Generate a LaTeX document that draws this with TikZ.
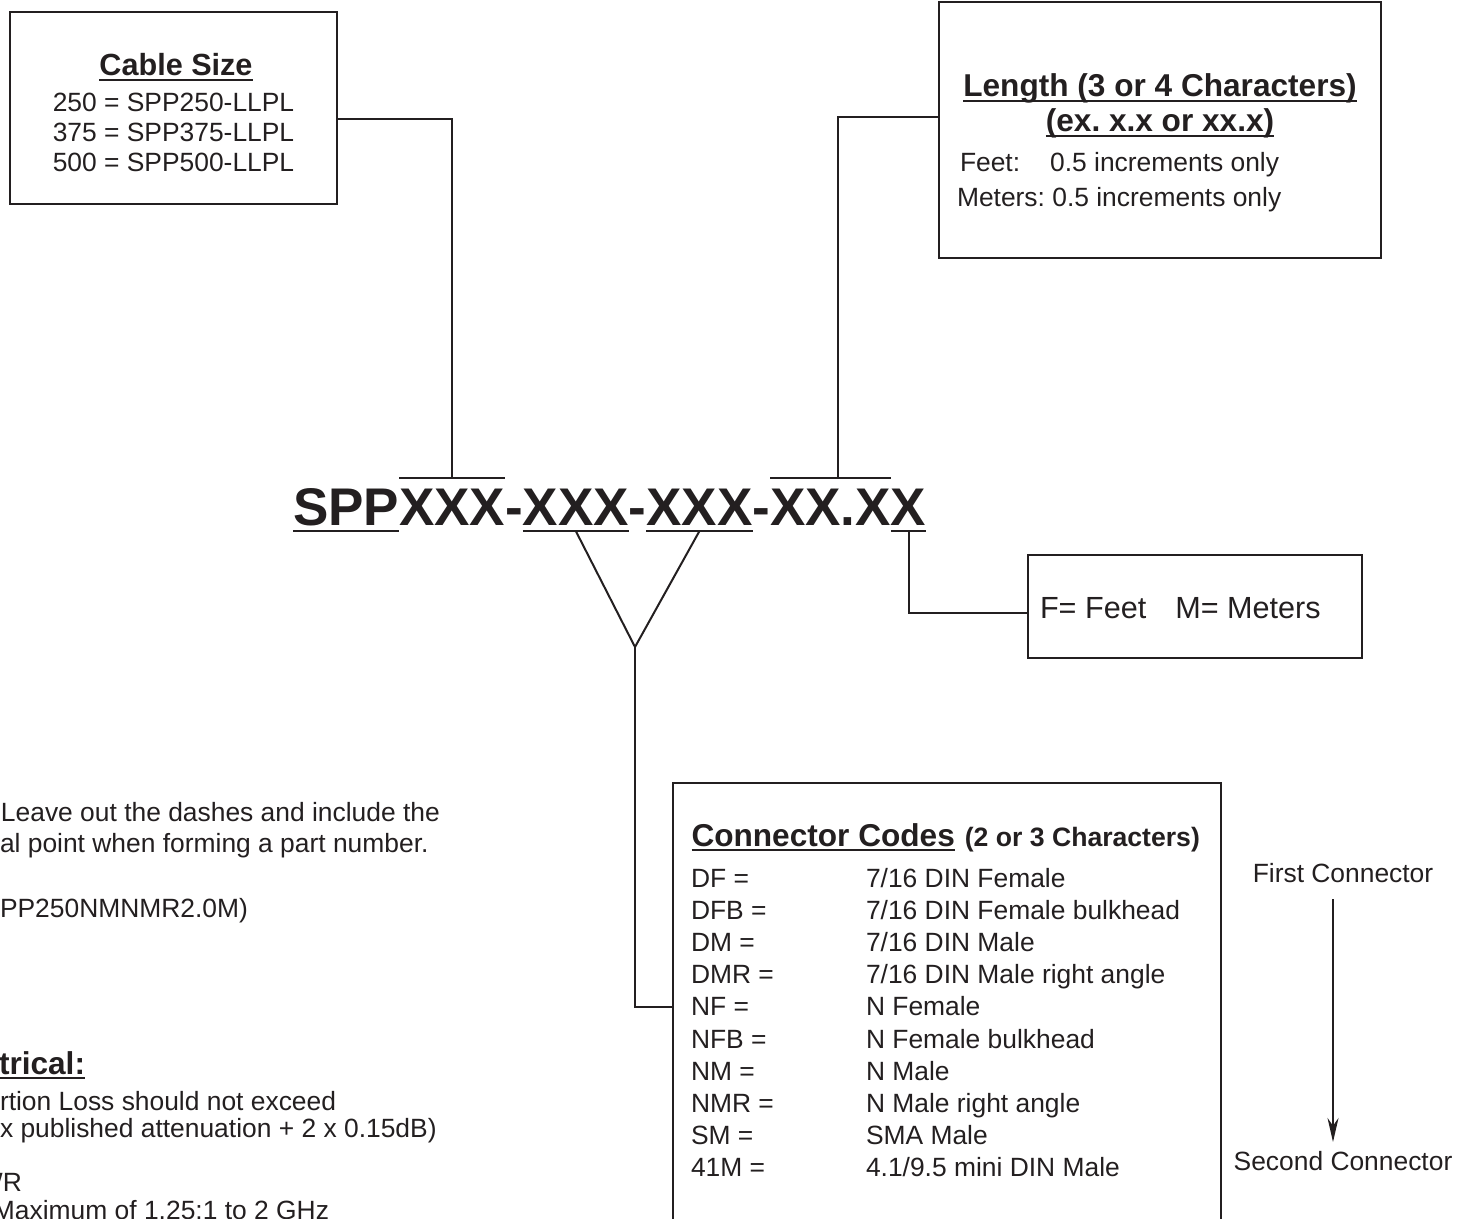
\documentclass[tikz,border=0pt]{standalone}
\usepackage{fontspec}
\setmainfont{Liberation Sans}
\usetikzlibrary{arrows.meta, positioning}
\definecolor{ink}{HTML}{231F20}
\frenchspacing

\begin{document}
\begin{tikzpicture}[x=0.5pt, y=-0.5pt, color=ink, line width=1pt,
    txt/.style={inner sep=0pt, outer sep=0pt, anchor=base west, font=\fontsize{13.2}{15}\selectfont},
    head/.style={txt, font=\fontsize{15.8}{18}\selectfont\bfseries},
    box/.style={draw, line width=1.2pt, inner sep=0pt},
    code/.style={inner sep=0pt, outer sep=0pt, anchor=base west, font=\fontsize{26.5}{30}\selectfont\bfseries}]
    \useasboundingbox (0,0) rectangle (1457,1219);

    % cable size
    \node[box, minimum width=163.5pt, minimum height=96pt] (cable) at (173.5,108) {};
    \node[head, anchor=base, font=\fontsize{15.3}{18}\selectfont\bfseries] (cabletitle) at (176,76) {Cable Size};
    \foreach \v [count=\i] in {250,375,500}
        \node[txt, anchor=base] (cs\v) at (173.5, 82+30*\i) {\v{} = SPP\v-LLPL};

    % length
    \node[box, minimum width=221pt, minimum height=128pt] (len) at (1160,130) {};
    \node[head, anchor=base] (lentitle) at (1160,97) {Length (3 or 4 Characters)};
    \node[head, anchor=base] (lenex) at (1160,132) {(ex. x.x or xx.x)};
    \node[txt] (feet) at (960,172) {Feet:\hspace{15pt}0.5 increments only};
    \node[txt] (meters) at (957,207) {Meters: 0.5 increments only};

    % part number
    \node[code] (spp) at (293,525) {SPP};
    \foreach \t/\n/\p in {XXX/xa/spp, -/da/xa, XXX/xb/da, -/db/xb, XXX/xc/db, -/dc/xc, XX.X/xd/dc, X/xe/xd}
        \node[code] (\n) at (\p.base east) {\t};
    \foreach \n in {spp,xb,xc,xe}
        \draw ([yshift=-3pt]\n.base west) -- ([yshift=-3pt]\n.base east);
    \foreach \n in {xa,xd}
        \draw ([yshift=5.5pt]\n.north west) -- ([yshift=5.5pt]\n.north east);

    % F / M
    \node[box, minimum width=167pt, minimum height=51.5pt] (fm) at (1195,606.5) {};
    \node[txt, font=\fontsize{15.3}{18}\selectfont] (fmtext) at (1040,618) {F= Feet\hspace{14.5pt}M= Meters};

    % connector codes
    \node[box, minimum width=274pt, minimum height=224pt] (codes) at (947,1007) {};
    \node[head] (codetitle) at (691.5,846) {Connector Codes};
    \node[txt, font=\fontsize{13.3}{15}\selectfont\bfseries] (codesub) at ([xshift=5pt]codetitle.base east) {(2 or 3 Characters)};
    \foreach \c/\d [count=\i from 0] in {DF/{7/16 DIN Female}, DFB/{7/16 DIN Female bulkhead},
        DM/{7/16 DIN Male}, DMR/{7/16 DIN Male right angle}, NF/{N Female}, NFB/{N Female bulkhead},
        NM/{N Male}, NMR/{N Male right angle}, SM/{SMA Male}, 41M/{4.1/9.5 mini DIN Male}}
    {
        \node[txt] (code\i) at (691, 887+32.2*\i) {\c{} =};
        \node[txt] (desc\i) at (866, 887+32.2*\i) {\d};
    }
    \node[txt, anchor=base] (first) at (1343,882) {First Connector};
    \node[txt, anchor=base] (second) at (1343,1170) {Second Connector};
    \draw[-{Stealth[length=12pt,width=5.5pt]}] ([xshift=-5pt,yshift=-8.5pt]first.base) -- ([xshift=-5pt,yshift=14pt]second.base);

    % notes
    \node[txt] (note1) at (1,821) {Leave out the dashes and include the};
    \node[txt] (note2) at (0,852) {al point when forming a part number.};
    \node[txt] (note3) at (0,917) {PP250NMNMR2.0M)};
    \node[head] (elec) at (-1,1074) {trical:};
    \node[txt] (loss1) at (0,1110) {rtion Loss should not exceed};
    \node[txt] (loss2) at (0,1137) {x published attenuation + 2 x 0.15dB)};
    \node[txt] (vswr) at (-22,1191) {WR};
    \node[txt] (vswrmax) at (-7,1219) {Maximum of 1.25:1 to 2 GHz};

    \foreach \n in {cabletitle,lentitle,lenex,codetitle,elec}
        \draw ([yshift=-2pt]\n.base west) -- ([yshift=-2pt]\n.base east);

    % connectors
    \coordinate (vtip) at (635,647);
    \draw ([yshift=-5.75pt]cable.east) -| ([yshift=5.5pt]xa.north);
    \draw ([yshift=6.5pt]len.west) -| ([xshift=3.75pt,yshift=5.5pt]xd.north);
    \draw ([yshift=-3pt]xb.base) -- (vtip) -- ([yshift=-3pt]xc.base);
    \draw (vtip) |- (codes.west);
    \draw ([yshift=-3pt]xe.base) |- ([yshift=-3.25pt]fm.west);
\end{tikzpicture}
\end{document}
